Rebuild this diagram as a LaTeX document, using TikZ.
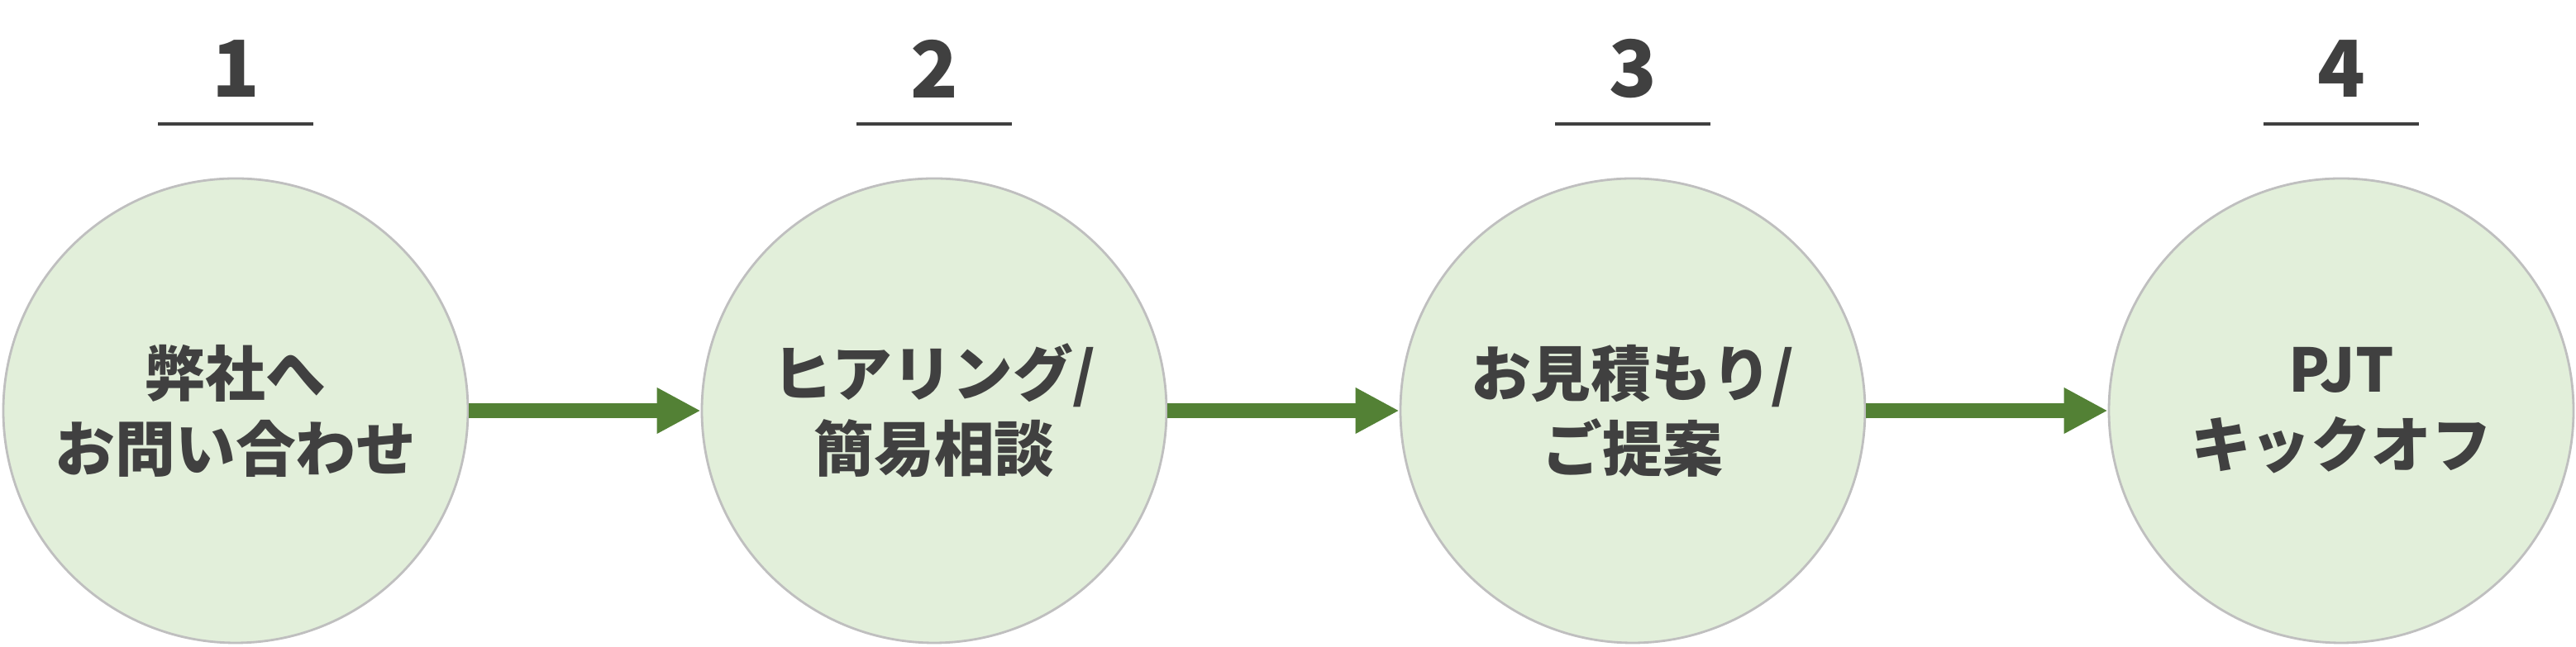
\documentclass[tikz,border=0pt]{standalone}
\usepackage{fontspec}
\setmainfont{Noto Sans CJK JP}
\usetikzlibrary{arrows.meta}
\definecolor{stepfill}{HTML}{E2EFDA}
\definecolor{stepline}{HTML}{BFBFBF}
\definecolor{flowgreen}{HTML}{538135}
\definecolor{ink}{HTML}{404040}
\tikzset{
  stepcircle/.style={circle, draw=stepline, line width=0.8pt, fill=stepfill,
    minimum size=5.62cm, inner sep=0pt, align=center, text=ink,
    font=\bfseries\fontsize{20.7}{25.9}\selectfont},
  stepnum/.style={text=ink, inner sep=0pt, font=\bfseries\fontsize{27}{30}\selectfont},
  numrule/.style={draw=ink, line width=1.4pt},
  flow/.style={draw=flowgreen, line width=5.1pt, -{Triangle[length=0.53cm,width=0.52cm]}}
}
\begin{document}
\begin{tikzpicture}
\useasboundingbox (0,0) rectangle (31.16,7.83);
\foreach \i/\x/\lab in {1/2.85/{弊社へ\\お問い合わせ},2/11.30/{ヒアリング/\\簡易相談},
  3/19.75/{お見積もり/\\ご提案},4/28.32/{PJT\\キックオフ}}{
  \node[stepcircle] (c\i) at (\x,2.86) {\lab};
  \node[stepnum] (n\i) at (\x,7.0) {\i};
  \coordinate (ra\i) at (\x-0.94,6.33);
  \coordinate (rb\i) at (\x+0.94,6.33);
  \draw[numrule] (ra\i) -- (rb\i);
}
\foreach \i/\j in {1/2,2/3,3/4}
  \draw[flow] (c\i) -- (c\j);
\end{tikzpicture}
\end{document}
